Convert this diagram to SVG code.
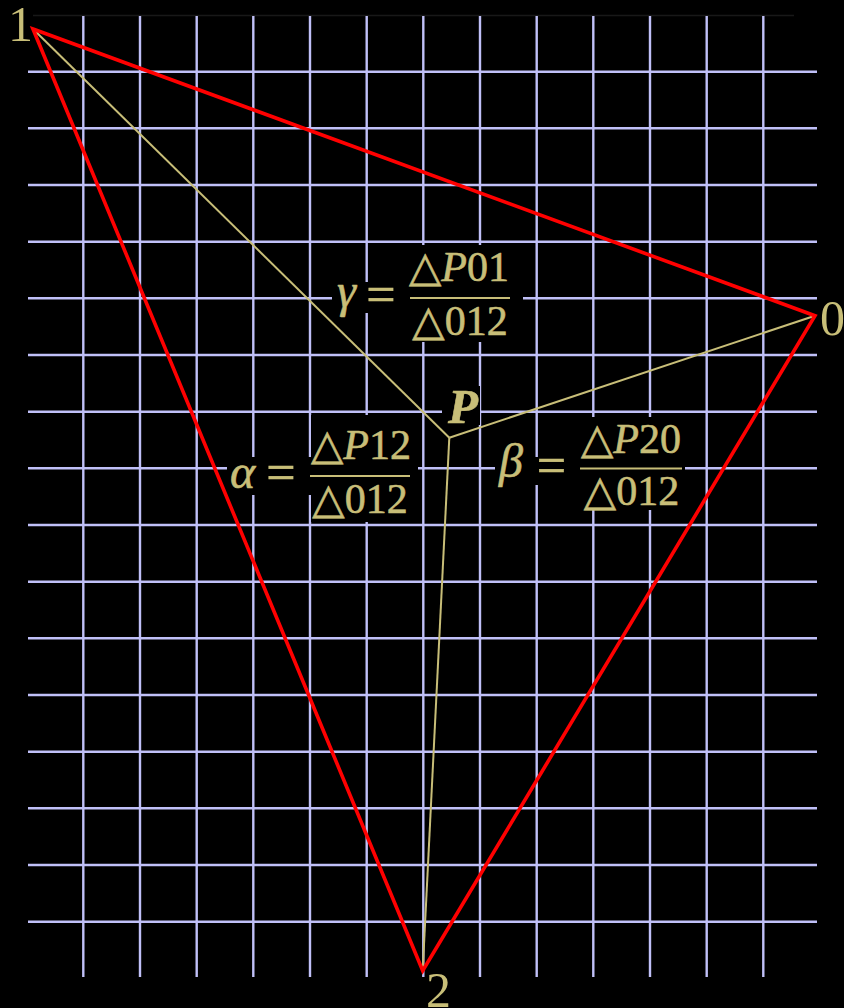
<svg xmlns="http://www.w3.org/2000/svg" width="844" height="1008" viewBox="0 0 844 1008">
<style>
.grid line{stroke:#c0c0f8;stroke-width:2.4}
.tri{fill:none;stroke:#ff0000;stroke-width:3.6;stroke-linejoin:miter}
.cev{stroke:#c8be78;stroke-width:2;fill:none}
.bg{fill:#000}
.t{font-family:"Liberation Serif","DejaVu Serif",serif;fill:#c8be78;stroke:#c8be78;stroke-width:0.6}
.m{font-size:42px}
.g{font-size:48px;font-style:italic}
.eq{font-size:52px}
.v{font-size:50px;stroke-width:0}
.it{font-style:italic}
.bar{stroke:#c8be78;stroke-width:2.2}
</style>
<rect x="0" y="0" width="844" height="1008" fill="#000"/>
<line x1="33" y1="15.5" x2="794" y2="15.5" stroke="#181818" stroke-width="1.5"/>
<g id="grid" class="grid">
<line x1="83.3" y1="16" x2="83.3" y2="977"/>
<line x1="140" y1="16" x2="140" y2="977"/>
<line x1="196.7" y1="16" x2="196.7" y2="977"/>
<line x1="253.3" y1="16" x2="253.3" y2="977"/>
<line x1="310" y1="16" x2="310" y2="977"/>
<line x1="366.7" y1="16" x2="366.7" y2="977"/>
<line x1="423.3" y1="16" x2="423.3" y2="977"/>
<line x1="480" y1="16" x2="480" y2="977"/>
<line x1="536.7" y1="16" x2="536.7" y2="977"/>
<line x1="593.3" y1="16" x2="593.3" y2="977"/>
<line x1="650" y1="16" x2="650" y2="977"/>
<line x1="706.7" y1="16" x2="706.7" y2="977"/>
<line x1="763.3" y1="16" x2="763.3" y2="977"/>
<line x1="28" y1="71.7" x2="817" y2="71.7"/>
<line x1="28" y1="128.3" x2="817" y2="128.3"/>
<line x1="28" y1="185" x2="817" y2="185"/>
<line x1="28" y1="241.7" x2="817" y2="241.7"/>
<line x1="28" y1="298.3" x2="817" y2="298.3"/>
<line x1="28" y1="355" x2="817" y2="355"/>
<line x1="28" y1="411.7" x2="817" y2="411.7"/>
<line x1="28" y1="468.3" x2="817" y2="468.3"/>
<line x1="28" y1="525" x2="817" y2="525"/>
<line x1="28" y1="581.7" x2="817" y2="581.7"/>
<line x1="28" y1="638.3" x2="817" y2="638.3"/>
<line x1="28" y1="695" x2="817" y2="695"/>
<line x1="28" y1="751.7" x2="817" y2="751.7"/>
<line x1="28" y1="808.3" x2="817" y2="808.3"/>
<line x1="28" y1="865" x2="817" y2="865"/>
<line x1="28" y1="921.7" x2="817" y2="921.7"/>
</g>
<g id="label-backgrounds">
<rect class="bg" x="400" y="245" width="123" height="97"/>
<rect class="bg" x="332" y="282" width="68" height="31"/>
<rect class="bg" x="311" y="415" width="107" height="107"/>
<rect class="bg" x="227" y="457" width="84" height="38"/>
<rect class="bg" x="578" y="417" width="107" height="93"/>
<rect class="bg" x="495" y="457" width="83" height="28"/>
<rect class="bg" x="442" y="386" width="38" height="39"/>
</g>
<g id="connectors">
<line class="cev" x1="449.3" y1="437.7" x2="33" y2="29"/>
<line class="cev" x1="449.3" y1="437.7" x2="815" y2="315.7"/>
<line class="cev" x1="449.3" y1="437.7" x2="422.7" y2="970.7"/>
</g>
<g id="triangle">
<polygon class="tri" points="33,29 815,315.7 422.7,970.7"/>
</g>
<g id="vertex-1"><text class="t v" x="8" y="41">1</text></g>
<g id="vertex-0"><text class="t v" x="820" y="335">0</text></g>
<g id="vertex-2"><text class="t v" x="426" y="1007">2</text></g>
<g id="point-P"><text class="t it" x="448" y="423" font-size="49" font-weight="bold">P</text></g>
<g id="label-gamma">
<text class="t g" x="337" y="307">γ</text>
<text class="t eq" x="380.8" y="311.5" text-anchor="middle">=</text>
<line class="bar" x1="410" y1="298" x2="510" y2="298"/>
<text class="t m" x="459" y="281" text-anchor="middle">△<tspan class="it">P</tspan>01</text>
<text class="t m" x="460" y="335" text-anchor="middle">△012</text>
</g>
<g id="label-alpha">
<text class="t g" x="230" y="488">α</text>
<text class="t eq" x="281" y="489.5" text-anchor="middle">=</text>
<line class="bar" x1="310" y1="476" x2="410" y2="476"/>
<text class="t m" x="361" y="459" text-anchor="middle">△<tspan class="it">P</tspan>12</text>
<text class="t m" x="360" y="513" text-anchor="middle">△012</text>
</g>
<g id="label-beta">
<text class="t g" x="499" y="477">β</text>
<text class="t eq" x="551.5" y="482.5" text-anchor="middle">=</text>
<line class="bar" x1="580" y1="468.5" x2="682" y2="468.5"/>
<text class="t m" x="631" y="452.5" text-anchor="middle">△<tspan class="it">P</tspan>20</text>
<text class="t m" x="631.5" y="505" text-anchor="middle">△012</text>
</g>
</svg>
